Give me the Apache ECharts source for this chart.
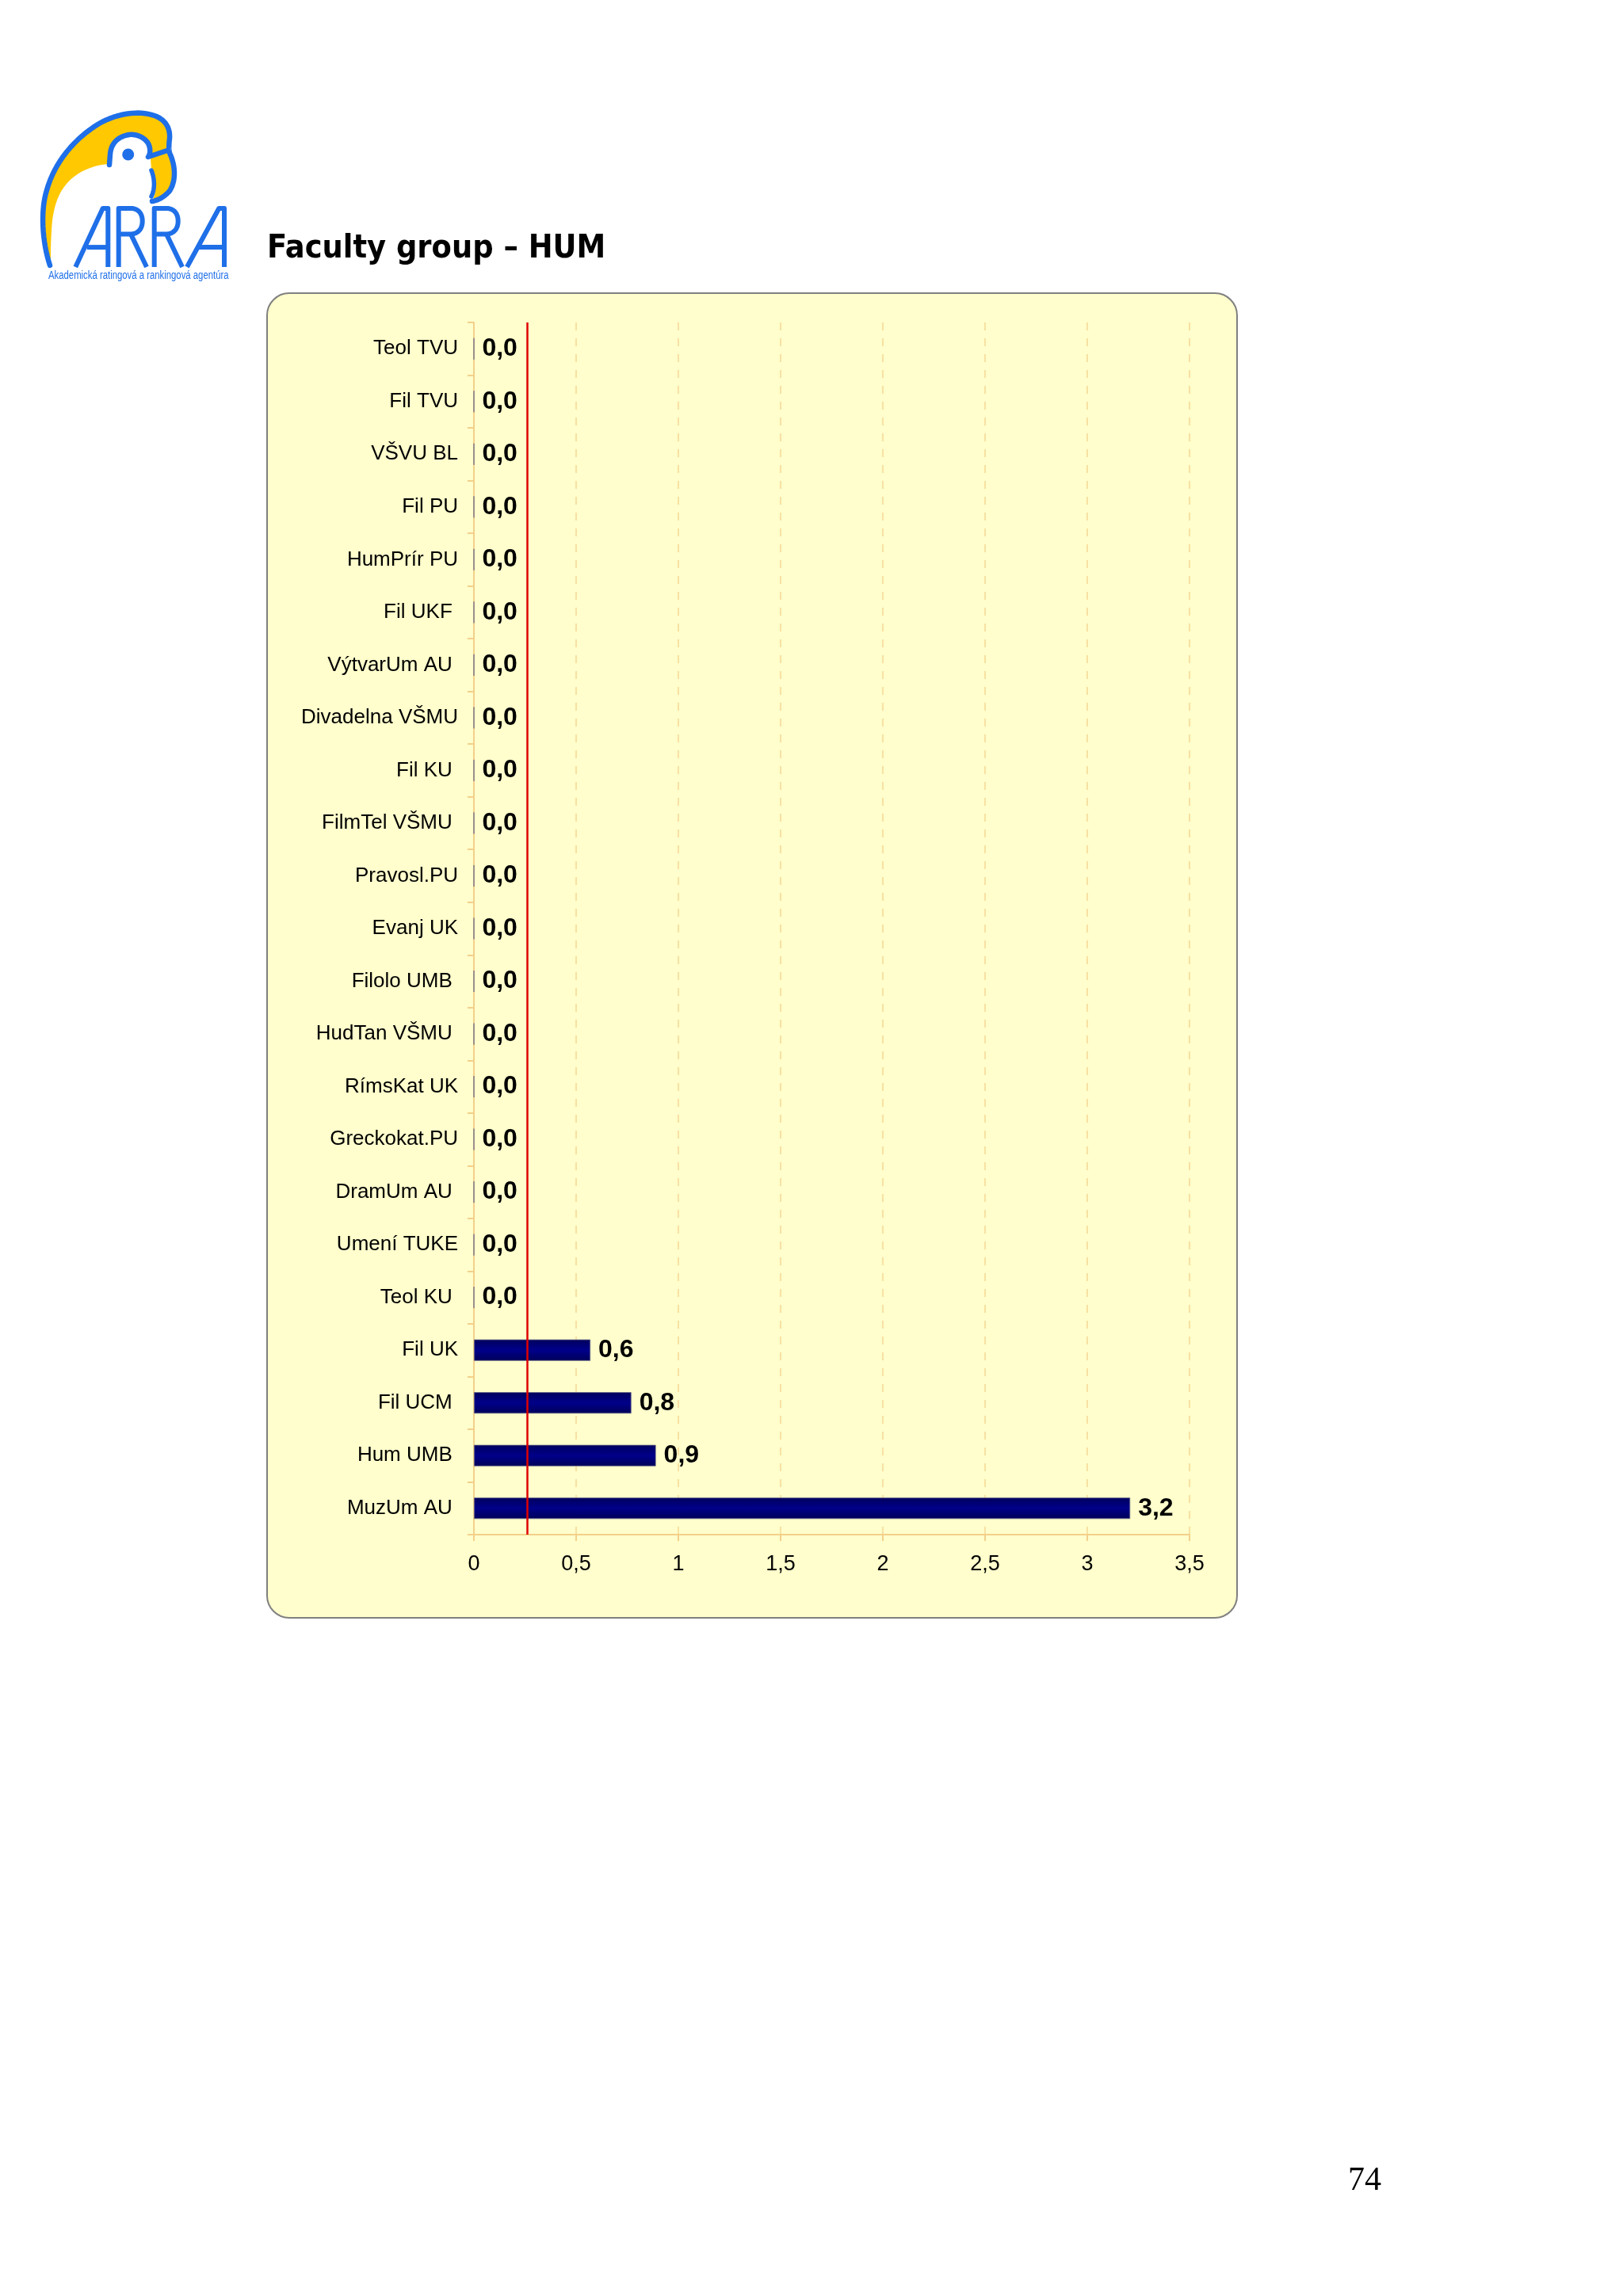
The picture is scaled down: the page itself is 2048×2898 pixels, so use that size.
<!DOCTYPE html>
<html>
<head>
<meta charset="utf-8">
<script src="https://cdn.jsdelivr.net/npm/echarts@6/dist/echarts.min.js"></script>
<style>
  html, body { margin: 0; padding: 0; background: #ffffff; }
  #main { width: 2048px; height: 2898px; }
</style>
</head>
<body>
<div id="main"></div>
<script>
// ---- data ----
const categories = [
  'Teol TVU', 'Fil TVU', 'VŠVU BL', 'Fil PU', 'HumPrír PU', 'Fil UKF ',
  'VýtvarUm AU ', 'Divadelna VŠMU', 'Fil KU ', 'FilmTel VŠMU ', 'Pravosl.PU',
  'Evanj UK', 'Filolo UMB ', 'HudTan VŠMU ', 'RímsKat UK', 'Greckokat.PU',
  'DramUm AU ', 'Umení TUKE', 'Teol KU ', 'Fil UK', 'Fil UCM ', 'Hum UMB ', 'MuzUm AU '
];
const values = [
  0, 0, 0, 0, 0, 0, 0, 0, 0, 0, 0, 0, 0, 0, 0, 0, 0, 0, 0,
  0.57, 0.77, 0.89, 3.21
];
const referenceLine = 0.26;
const xTicks = { min: 0, max: 3.5, interval: 0.5 };
const titleText = 'Faculty group – HUM';
const pageNumber = '74';
const logoTagline = 'Akademická ratingová a rankingová agentúra';

// ---- logo outline helper (decoration only) ----
function samplePath(d) {
  const t = d.trim().split(/\s+/);
  const subs = []; let cur = null; let i = 0; let px = 0, py = 0;
  while (i < t.length) {
    const c = t[i++];
    if (c === 'M') { px = +t[i++]; py = +t[i++]; cur = [[px, py]]; subs.push(cur); }
    else if (c === 'L') { px = +t[i++]; py = +t[i++]; cur.push([px, py]); }
    else if (c === 'C') {
      const x1 = +t[i++], y1 = +t[i++], x2 = +t[i++], y2 = +t[i++], x3 = +t[i++], y3 = +t[i++];
      for (let k = 1; k <= 16; k++) {
        const s = k / 16, u = 1 - s;
        cur.push([u*u*u*px + 3*u*u*s*x1 + 3*u*s*s*x2 + s*s*s*x3,
                  u*u*u*py + 3*u*u*s*y1 + 3*u*s*s*y2 + s*s*s*y3]);
      }
      px = x3; py = y3;
    }
  }
  return subs;
}

const blue = '#1F6FE8';
const yellow = '#FFC800';
const yellowPath = 'M 63 332 C 53 305 51 265 59 240 C 69 204 95 174 125 156 C 148 143 175 139 195 146 C 209 151 215 162 214 175 C 213 182 213 188 214 193 C 222 210 222 229 214 241 C 207 249 199 253 192 254 C 196 246 197 238 195 230 C 194 224 193 219 191 214 L 190 200 L 187 198 C 191 190 190 182 183 176 C 177 171 170 169 163 170 C 150 172 140 180 139 195 L 138 207 C 118 208 98 216 84 232 C 71 247 66 268 65 292 C 64 307 64 320 64 332 Z';
const strokePaths = [
  { d: 'M 63 335 C 53 305 51 265 59 240 C 69 204 95 174 125 156 C 148 143 175 139 195 146 C 209 151 215 162 214 175 C 213 182 213 188 214 193 C 222 210 222 229 214 241 C 207 249 199 253 192 254', w: 6.5, cap: 'round' },
  { d: 'M 138 208 L 139 195 C 140 180 150 172 163 170 C 172 169 182 173 187 181 C 190 187 190 194 187 198 L 211 190', w: 6.5, cap: 'round' },
  { d: 'M 191 215 C 195 225 196 238 191 248', w: 5.5, cap: 'round' },
  { d: 'M 95.3 337 L 129.7 263 L 136.3 263 L 136.3 337 M 109.7 312.1 L 136.3 312.1 M 149.7 337 L 149.7 263 L 165 263 C 175 263 179.7 270.1 179.7 279.2 C 179.7 288.8 174 295.4 165 295.4 L 149.7 295.4 M 165 295.4 L 185 337 M 194.7 337 L 194.7 263 L 210 263 C 220 263 224.7 270.1 224.7 279.2 C 224.7 288.8 219 295.4 210 295.4 L 194.7 295.4 M 210 295.4 L 230 337 M 236 337 L 276.3 263 L 283 263 L 283 337 M 250 312.1 L 283 312.1', w: 6, cap: 'butt' }
];

const logoElements = [];
samplePath(yellowPath).forEach(pts => logoElements.push({
  type: 'polygon', silent: true, z: 5, shape: { points: pts }, style: { fill: yellow }
}));
strokePaths.forEach(sp => samplePath(sp.d).forEach(pts => logoElements.push({
  type: 'polyline', silent: true, z: 6, shape: { points: pts },
  style: { fill: null, stroke: blue, lineWidth: sp.w, lineCap: sp.cap, lineJoin: 'round' }
})));
logoElements.push({
  type: 'circle', silent: true, z: 6, shape: { cx: 161.7, cy: 195, r: 7.5 }, style: { fill: blue }
});

// ---- chart ----
const chart = echarts.init(document.getElementById('main'));
const axisColor = '#F3D08A';
const fmt = v => (Number(v).toFixed(1)).replace('.', ',');

const option = {
  backgroundColor: '#ffffff',
  animation: false,
  grid: { left: 598, top: 407, width: 903, height: 1530, containLabel: false },
  xAxis: {
    type: 'value',
    min: xTicks.min, max: xTicks.max, interval: xTicks.interval,
    axisLine: { show: true, lineStyle: { color: axisColor, width: 2 } },
    axisTick: { show: true, length: 8, lineStyle: { color: axisColor, width: 2 } },
    axisLabel: {
      show: true, margin: 24, color: '#000000',
      fontFamily: 'Liberation Sans, Arial, sans-serif', fontSize: 27,
      formatter: v => String(v).replace('.', ',')
    },
    splitLine: { show: true, lineStyle: { color: '#F5D795', width: 1.5, type: [10, 10] } }
  },
  yAxis: {
    type: 'category',
    data: categories,
    inverse: true,
    axisLine: { show: true, lineStyle: { color: axisColor, width: 2 } },
    axisTick: { show: true, length: 8, lineStyle: { color: axisColor, width: 2 } },
    axisLabel: {
      show: true, margin: 20, color: '#000000',
      fontFamily: 'Liberation Sans, Arial, sans-serif', fontSize: 26
    },
    splitLine: { show: false }
  },
  series: [{
    type: 'bar',
    data: values,
    barWidth: 27,
    itemStyle: {
      color: {
        type: 'linear', x: 0, y: 0, x2: 0, y2: 1,
        colorStops: [
          { offset: 0, color: '#00005C' },
          { offset: 0.5, color: '#00008A' },
          { offset: 1, color: '#000058' }
        ]
      },
      borderColor: '#6A6A8A', borderWidth: 0.8
    },
    label: {
      show: true, position: 'right', distance: 10,
      color: '#000000', fontWeight: 'bold', fontSize: 32,
      fontFamily: 'Liberation Sans, Arial, sans-serif',
      formatter: p => fmt(p.value)
    },
    markLine: {
      silent: true, symbol: 'none',
      label: { show: false },
      lineStyle: { color: '#E00000', width: 2.5, type: 'solid' },
      data: [{ xAxis: referenceLine }]
    }
  }],
  graphic: {
    elements: [
      {
        type: 'rect', z: -10, silent: true,
        shape: { x: 337, y: 370, width: 1224, height: 1672, r: 28 },
        style: { fill: '#FFFECC', stroke: '#808080', lineWidth: 2 }
      },
      {
        type: 'text', x: 337, y: 294, silent: true,
        style: {
          text: titleText, fill: '#000000',
          font: 'bold 41px "DejaVu Sans Condensed", "DejaVu Sans", sans-serif',
          textAlign: 'left', textVerticalAlign: 'top', align: 'left', verticalAlign: 'top'
        }
      },
      {
        type: 'text', x: 1722, y: 2753, silent: true,
        style: {
          text: pageNumber, fill: '#000000',
          font: '42px "Liberation Serif", "Times New Roman", serif',
          textAlign: 'center', textVerticalAlign: 'middle', align: 'center', verticalAlign: 'middle'
        }
      },
      {
        type: 'text', x: 61, y: 348, silent: true, scaleX: 0.81, originX: 0, originY: 0,
        style: {
          text: logoTagline, fill: blue,
          font: '14px "Liberation Sans", Arial, sans-serif',
          textAlign: 'left', textVerticalAlign: 'middle', align: 'left', verticalAlign: 'middle'
        }
      }
    ].concat(logoElements)
  }
};
chart.setOption(option);
</script>
</body>
</html>
